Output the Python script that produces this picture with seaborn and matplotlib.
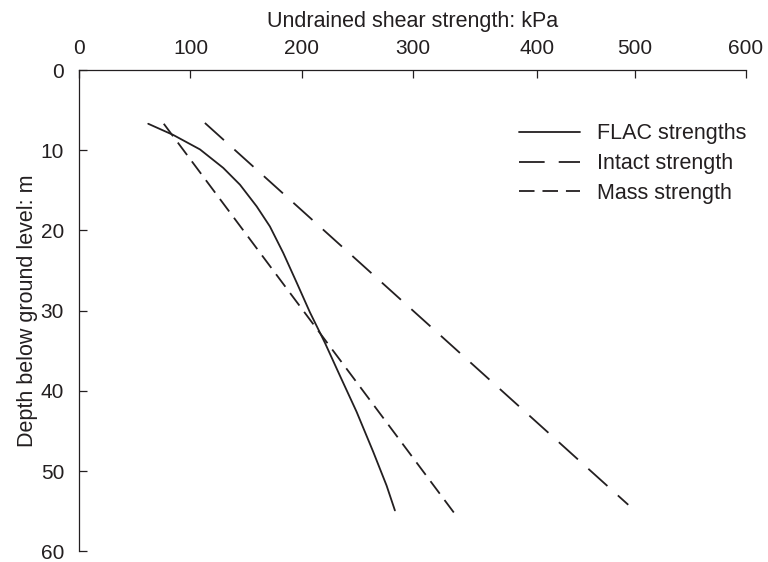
import pandas as pd
import matplotlib
matplotlib.use("Agg")
import matplotlib.pyplot as plt
import seaborn as sns

# curves (x: kPa, y: depth m)
flac_depth = [6.7, 8.1, 9.9, 12.2, 14.3, 17.0, 19.5, 22.8, 26.5, 30.2, 34.0,
              38.1, 42.6, 47.6, 51.8, 54.9]
flac_strength = [62, 84.6, 108.6, 129.5, 144.6, 159.6, 171.5, 183.5, 195.6, 207.5, 221,
                 234.5, 249.5, 264.5, 276.5, 284]
intact_depth = [6.6, 54.2]
intact_strength = [113, 494]
mass_depth = [6.7, 55.9]
mass_strength = [76, 341]

series_names = ["FLAC strengths", "Intact strength", "Mass strength"]
x_tick_pos = [0, 100, 200, 300, 412, 500, 600]
x_tick_labels = ["0", "100", "200", "300", "400", "500", "600"]
y_ticks = [0, 10, 20, 30, 40, 50, 60]

df = pd.concat([
    pd.DataFrame({"strength": flac_strength, "depth": flac_depth, "series": series_names[0]}),
    pd.DataFrame({"strength": intact_strength, "depth": intact_depth, "series": series_names[1]}),
    pd.DataFrame({"strength": mass_strength, "depth": mass_depth, "series": series_names[2]}),
], ignore_index=True)

sns.set_style("white")
plt.rcParams["font.family"] = ["Liberation Sans", "DejaVu Sans"]
ink = "#231f20"
fs = 15.5
tick_fs = 15

fig = plt.figure(figsize=(7.68, 5.62), dpi=100)
ax = fig.add_axes([0.1033, 0.019, 0.8681, 0.8564])

lw = 1.3
dash_map = {
    series_names[0]: "",
    series_names[1]: (14.2, 7.8),
    series_names[2]: (8.6, 4.4),
}
sns.lineplot(
    data=df, x="strength", y="depth", style="series", style_order=series_names,
    dashes=dash_map, color=ink, linewidth=lw, sort=False, estimator=None,
    legend=False, ax=ax,
)

ax.set_xlim(0, 600)
ax.set_ylim(60, 0)
ax.xaxis.tick_top()
ax.xaxis.set_label_position("top")
ax.set_xticks(x_tick_pos)
ax.set_xticklabels(x_tick_labels)
ax.set_yticks(y_ticks)
for s in ["right", "bottom"]:
    ax.spines[s].set_visible(False)
for s in ["left", "top"]:
    ax.spines[s].set_color(ink)
    ax.spines[s].set_linewidth(0.9)
ax.tick_params(axis="x", which="major", top=True, bottom=False, labeltop=True,
               labelbottom=False, direction="in", length=6, width=0.9, color=ink,
               labelsize=tick_fs, labelcolor=ink, pad=9)
ax.tick_params(axis="y", which="major", left=True, right=False, direction="in",
               length=6, width=0.9, color=ink, labelsize=tick_fs, labelcolor=ink, pad=11)
ax.set_xlabel("Undrained shear strength: kPa", fontsize=fs, color=ink, labelpad=8)
ax.set_ylabel("Depth below ground level: m", fontsize=fs, color=ink, labelpad=2)

ax.legend(ax.get_lines(), series_names, loc="upper left",
          bbox_to_anchor=(0.6595, 0.889), frameon=False, fontsize=fs,
          handlelength=2.85, handletextpad=0.78, labelspacing=0.4,
          borderpad=0, borderaxespad=0, labelcolor=ink)

fig.savefig("out.png", dpi=100)
